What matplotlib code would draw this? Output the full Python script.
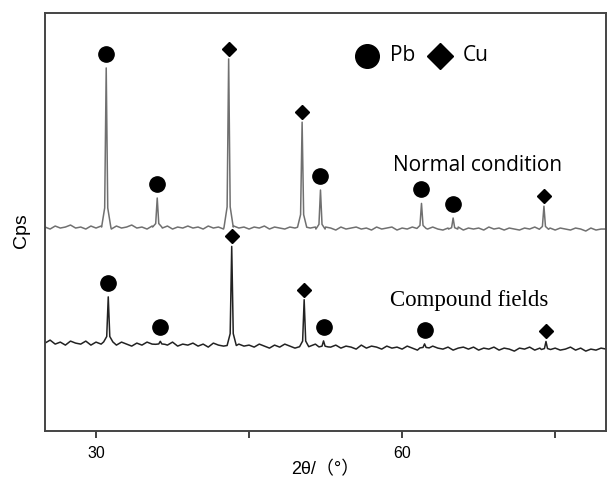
import numpy as np
import matplotlib.pyplot as plt

# baseline of each pattern, read every 0.5 degree from 25 to 80
base_x = np.arange(25, 80.25, 0.5)
normal_base = [204, 202, 205, 203, 204, 206, 203, 204, 202, 205,
               203, 205, 204, 202, 205, 203, 204, 206, 203, 204,
               202, 205, 204, 203, 205, 202, 204, 203, 205, 203,
               204, 202, 205, 203, 204, 202, 204, 205, 203, 204,
               202, 204, 203, 205, 202, 204, 203, 202, 204, 203,
               205, 202, 203, 204, 202, 204, 203, 201, 204, 202,
               203, 204, 202, 203, 201, 204, 202, 203, 204, 201,
               203, 202, 204, 201, 203, 202, 204, 202, 201, 203,
               202, 204, 201, 203, 202, 203, 201, 204, 202, 203,
               201, 203, 202, 201, 203, 202, 204, 201, 202, 203,
               201, 203, 202, 201, 203, 202, 200, 203, 201, 202,
               202]
compound_base = [88, 91, 87, 89, 86, 90, 88, 87, 90, 86,
                 89, 87, 90, 88, 86, 89, 87, 85, 88, 86,
                 89, 87, 85, 88, 86, 89, 85, 87, 86, 88,
                 85, 87, 84, 88, 86, 85, 88, 84, 87, 85,
                 86, 84, 87, 85, 83, 86, 84, 87, 85, 83,
                 86, 84, 85, 87, 83, 85, 84, 86, 83, 85,
                 84, 82, 86, 83, 85, 84, 82, 85, 83, 84,
                 82, 85, 83, 81, 84, 82, 85, 83, 82, 84,
                 81, 83, 84, 82, 84, 81, 83, 82, 84, 81,
                 83, 82, 80, 83, 82, 84, 81, 83, 82, 80,
                 83, 81, 82, 84, 81, 83, 80, 82, 81, 83,
                 82]

# peaks: 2theta, height above baseline, phase
normal_pos = [31.0, 36.0, 43.0, 50.2, 52.0, 61.9, 65.0, 73.9]
normal_h = [159, 29, 168, 105, 39, 25, 11, 23]
normal_phase = ['Pb', 'Pb', 'Cu', 'Cu', 'Pb', 'Pb', 'Pb', 'Cu']

compound_pos = [31.2, 36.3, 43.3, 50.4, 52.3, 62.2, 74.1]
compound_h = [45, 3, 99, 47, 6, 4, 8]
compound_phase = ['Pb', 'Pb', 'Cu', 'Cu', 'Pb', 'Pb', 'Cu']

# peak profile shape (offset in degrees, fraction of height)
shape_dx = np.array([-0.45, -0.15, -0.05, 0, 0.05, 0.15, 0.45])
shape_f = np.array([0, 0.12, 0.7, 1, 0.7, 0.12, 0])


def build_trace(base, pos, h):
    bx = base_x.astype(float)
    by = np.array(base, dtype=float)
    keep = np.ones(len(bx), bool)
    for p in pos:
        keep &= np.abs(bx - p) > 0.45
    xs = list(bx[keep])
    ys = list(by[keep])
    for p, hh in zip(pos, h):
        foot = np.interp(p, bx, by)
        xs += list(p + shape_dx)
        ys += list(foot + hh * shape_f)
    order = np.argsort(xs)
    return np.array(xs)[order], np.array(ys)[order]


fig = plt.figure(figsize=(6.08, 4.78), dpi=100)
ax = fig.add_axes([0.074, 0.098, 0.923, 0.875])

for base, pos, h, phase, col in [(normal_base, normal_pos, normal_h, normal_phase, '#707070'),
                                 (compound_base, compound_pos, compound_h, compound_phase, '#222222')]:
    x, y = build_trace(base, pos, h)
    ax.plot(x, y, color=col, lw=1.1)
    for p, hh, ph in zip(pos, h, phase):
        top = np.interp(p, base_x, base) + hh
        if ph == 'Pb':
            ax.plot(p, top + 14, 'o', color='black', ms=11)
        else:
            ax.plot(p, top + 10, 'D', color='black', ms=7.5)

# legend drawn as text + markers
ax.plot(56.6, 375, 'o', color='black', ms=17)
ax.text(58.8, 375, 'Pb', fontsize=15, family='Open Sans', va='center')
ax.plot(63.7, 375, 'D', color='black', ms=13)
ax.text(65.9, 375, 'Cu', fontsize=15, family='Open Sans', va='center')

ax.text(59.1, 265, 'Normal condition', fontsize=15, family='Open Sans', va='center')
ax.text(58.8, 131, 'Compound fields', fontsize=16.5, family='Liberation Serif', va='center')

ax.set_xlim(25, 80)
ax.set_ylim(0, 418)
ax.set_xticks([30, 45, 60, 75])
ax.set_xticklabels(['30', '', '60', ''], fontsize=11.5, family='Liberation Sans')
ax.set_yticks([])
ax.tick_params(axis='x', direction='out', length=5, width=1.3, color='#333333', pad=6)
for s in ax.spines.values():
    s.set_linewidth(1.4)
    s.set_color('#444444')

ax.set_xlabel('2θ/（°）', fontsize=13, family=['Liberation Sans', 'Noto Sans CJK SC'], labelpad=0)
ax.set_ylabel('Cps', fontsize=14, family='Liberation Sans')
ax.yaxis.set_label_coords(-0.027, 0.48)

fig.savefig('out.png', dpi=100)
